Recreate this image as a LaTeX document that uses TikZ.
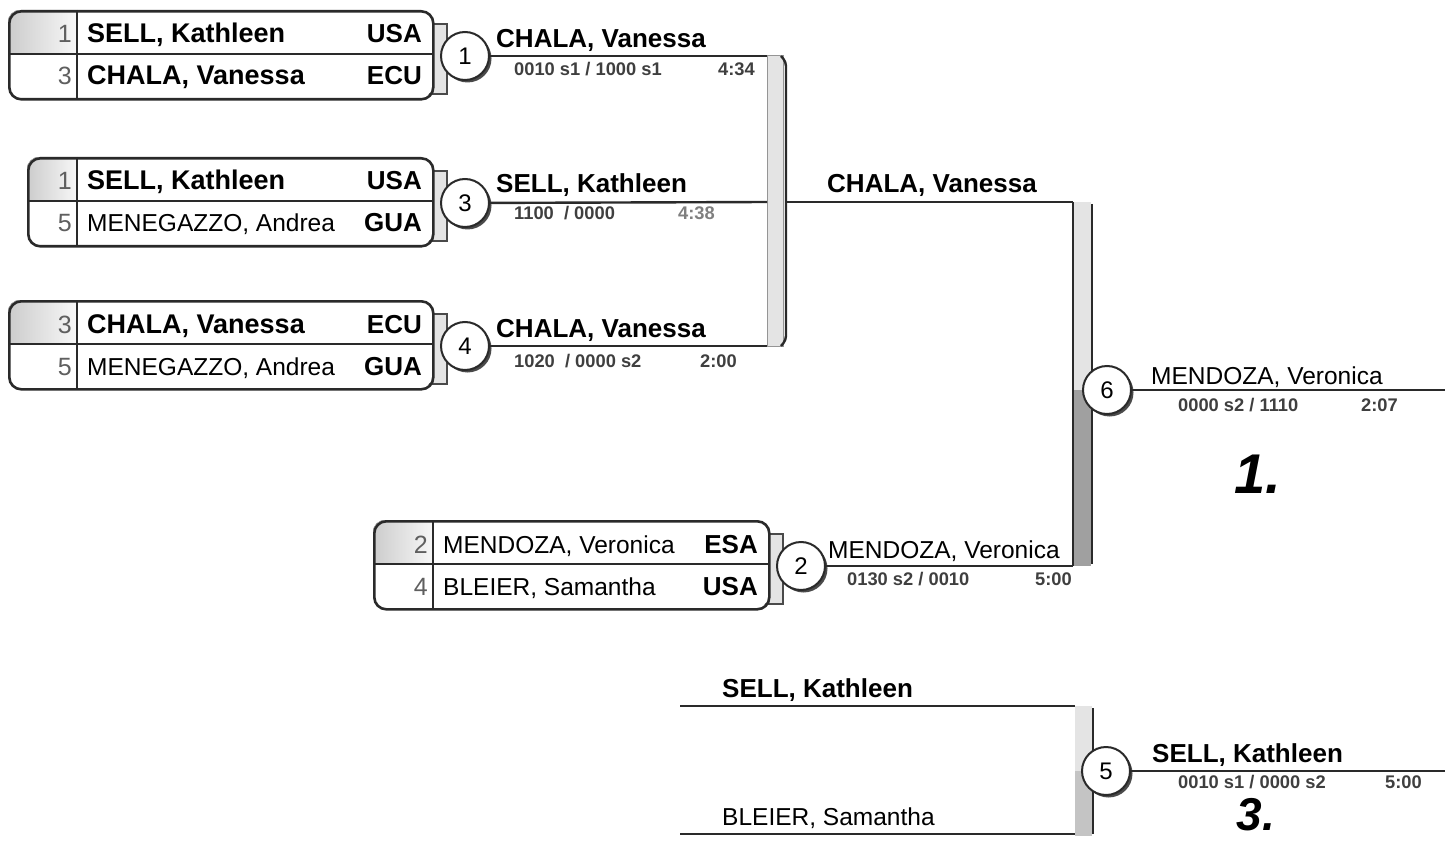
\documentclass[tikz,border=0pt]{standalone}
\usepackage{fontspec}
\setmainfont{Liberation Sans}
\usetikzlibrary{positioning,shadows}
\definecolor{ink}{HTML}{2A2A2A}
\definecolor{bar}{HTML}{E4E4E4}
\definecolor{barmid}{HTML}{C4C4C4}
\definecolor{bardark}{HTML}{A0A0A0}
\newcommand{\topname}[1]{{\fontsize{27}{30}\selectfont\bfseries #1}}

\tikzset{
  entry/.style={draw=ink, line width=2.6pt, rounded corners=12pt, inner sep=0pt, anchor=north west},
  rule/.style={draw=ink, line width=1.6pt},
  wire/.style={draw=ink, line width=2.4pt},
  tab/.style={fill=bar, draw=ink!85, line width=1.4pt},
  bout/.style={circle, draw=ink, line width=2pt, fill=white, minimum size=48pt, inner sep=0pt,
    font=\fontsize{24}{24}\selectfont,
    drop shadow={shadow xshift=2.5pt, shadow yshift=-2.5pt, fill=ink!85, opacity=1}},
  who/.style={anchor=base west, inner sep=0pt, font=\fontsize{24.5}{30}\selectfont},
  lead/.style={who, font=\fontsize{26}{30}\selectfont\bfseries},
  seed/.style={anchor=base east, inner sep=0pt, font=\fontsize{25}{30}\selectfont, text=ink!75},
  nation/.style={anchor=base east, inner sep=0pt, font=\fontsize{26}{30}\selectfont\bfseries},
  score/.style={anchor=base west, inner sep=0pt, font=\fontsize{18.3}{20}\selectfont\bfseries, text=ink!90},
  clock/.style={anchor=base east, inner sep=0pt, font=\fontsize{18.3}{20}\selectfont\bfseries, text=ink!90},
  rank/.style={anchor=base, inner sep=0pt, font=\fontsize{56}{60}\selectfont\bfseries\itshape},
}

\begin{document}
\begin{tikzpicture}[x=1pt, y=-1pt]
  \useasboundingbox (0,0) rectangle (1450,842);

  % pairing boxes with their bout circles
  \foreach \bx/\bl/\bd/\br/\bt/\sa/\na/\ca/\sb/\nb/\cb in {
    1/8/77/432/10/1/{\topname{SELL, Kathleen}}/USA/3/{\topname{CHALA, Vanessa}}/ECU,
    3/27/77/432/157/1/{\topname{SELL, Kathleen}}/USA/5/{MENEGAZZO, Andrea}/GUA,
    4/8/77/432/300/3/{\topname{CHALA, Vanessa}}/ECU/5/{MENEGAZZO, Andrea}/GUA,
    2/373/433/768/520/2/{MENDOZA, Veronica}/ESA/4/{BLEIER, Samantha}/USA} {
    \path[tab] (\br-4,\bt+14) rectangle (\br+15,\bt+84);
    \begin{scope}
      \clip[rounded corners=12pt] (\bl,\bt) rectangle (\br,\bt+88);
      \fill[left color=gray!40, right color=gray!6] (\bl,\bt) rectangle (\bd,\bt+44);
      \fill[white] (\bd,\bt) rectangle (\br,\bt+88);
    \end{scope}
    \draw[rule] (\bl,\bt+44) -- (\br,\bt+44);
    \draw[rule] (\bd,\bt) -- (\bd,\bt+88);
    \node[entry, minimum width={(\br-\bl)*1pt}, minimum height=88pt] (box\bx) at (\bl,\bt) {};
    \node[seed] (seed\bx-a) at (\bd-5,\bt+33) {\sa};
    \node[seed] (seed\bx-b) at (\bd-5,\bt+75) {\sb};
    \node[who] (name\bx-a) at (\bd+10,\bt+33) {\na};
    \node[who] (name\bx-b) at (\bd+10,\bt+75) {\nb};
    \node[nation] (nat\bx-a) at (\br-10,\bt+33) {\ca};
    \node[nation] (nat\bx-b) at (\br-10,\bt+75) {\cb};
    \node[bout] (bout\bx) at (\br+33,\bt+46) {\bx};
  }

  % pool bracket
  \path[fill=bar, draw=ink!50, line width=1pt] (767,56) rectangle (783,346);
  \draw[wire, rounded corners=4pt] (781,56) -- (786,62) -- (786,340) -- (781,346);
  \coordinate (join1) at (767,56);
  \coordinate (join3) at (767,202);
  \coordinate (join4) at (767,346);
  \coordinate (pool) at (786,202);
  \coordinate (semi) at (1073,202);
  \draw[wire] (bout1) -- (join1);
  \draw[wire] (bout3) -- (join3);
  \draw[wire] (bout4) -- (join4);
  \draw[wire] (pool) -- (semi);

  \node[lead] (win1) at (496,48) {CHALA, Vanessa};
  \node[score] (res1) at (514,76) {0010 s1 / 1000 s1};
  \node[clock] (time1) at (755,76) {4:34};
  \node[lead] (win3) at (496,193) {SELL, Kathleen};
  \node[score] (res3) at (514,220) {1100 \ / 0000};
  \node[clock, text=ink!60] (time3) at (715,220) {4:38};
  \node[lead] (win4) at (496,337) {CHALA, Vanessa};
  \node[score] (res4) at (514,367) {1020 \ / 0000 s2};
  \node[clock] (time4) at (737,367) {2:00};
  \node[lead] (winpool) at (827,193) {CHALA, Vanessa};

  % match 2 into the final
  \coordinate (join2) at (1073,566);
  \draw[wire] (bout2) -- (join2);
  \node[who] (win2) at (828,558) {MENDOZA, Veronica};
  \node[score] (res2) at (847,585) {0130 s2 / 0010};
  \node[clock] (time2) at (1072,585) {5:00};

  % final
  \path[fill=bar] (1073,202) rectangle (1091,390);
  \path[fill=bardark] (1073,390) rectangle (1091,566);
  \draw[rule] (1073,202) -- (1073,566);
  \draw[wire] (1092,204) -- (1092,564);
  \node[bout] (bout6) at (1107,390) {6};
  \coordinate (gold) at (1445,390);
  \draw[wire] (bout6) -- (gold);
  \node[who] (win6) at (1151,384) {MENDOZA, Veronica};
  \node[score] (res6) at (1178,411) {0000 s2 / 1110};
  \node[clock] (time6) at (1398,411) {2:07};
  \node[rank] (first) at (1258,493) {1.};

  % bronze bout
  \coordinate (sfa) at (680,706);
  \coordinate (sfb) at (680,834);
  \coordinate (bra) at (1075,706);
  \coordinate (brb) at (1075,834);
  \draw[wire] (sfa) -- (bra);
  \draw[wire] (sfb) -- (brb);
  \node[lead] (lossa) at (722,697) {SELL, Kathleen};
  \node[who] (lossb) at (722,825) {BLEIER, Samantha};
  \path[fill=bar] (1075,706) rectangle (1092,771);
  \path[fill=barmid] (1075,771) rectangle (1092,836);
  \draw[wire] (1093,708) -- (1093,834);
  \node[bout] (bout5) at (1106,771) {5};
  \coordinate (bronze) at (1445,771);
  \draw[wire] (bout5) -- (bronze);
  \node[lead] (win5) at (1152,762) {SELL, Kathleen};
  \node[score] (res5) at (1178,788) {0010 s1 / 0000 s2};
  \node[clock] (time5) at (1422,788) {5:00};
  \node[rank, font=\fontsize{46}{50}\selectfont\bfseries\itshape] (third) at (1256,830) {3.};
\end{tikzpicture}
\end{document}
